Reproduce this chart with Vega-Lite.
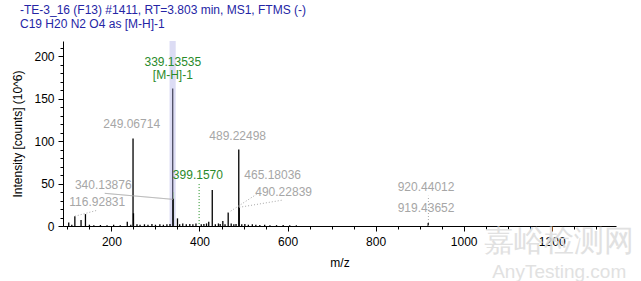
{
  "$schema": "https://vega.github.io/schema/vega-lite/v6.json",
  "width": 553,
  "height": 185,
  "autosize": {"type": "none"},
  "padding": {"left": 63, "top": 41, "right": 25, "bottom": 55},
  "background": "white",
  "config": {
    "font": "Liberation Sans",
    "view": {"stroke": null},
    "axis": {"labelFont": "Liberation Sans", "titleFont": "Liberation Sans", "grid": false}
  },
  "title": {
    "text": ["-TE-3_16 (F13) #1411, RT=3.803 min, MS1, FTMS (-)", "C19 H20 N2 O4 as [M-H]-1"],
    "anchor": "start",
    "frame": "group",
    "dx": -43,
    "offset": 10,
    "color": "#2525a5",
    "font": "Liberation Sans",
    "fontSize": 12,
    "fontWeight": "normal",
    "lineHeight": 14.5
  },
  "datasets": {
    "peaks": [
      {"mz": 103, "intensity": 4, "kind": "ion"},
      {"mz": 110, "intensity": 1.5, "kind": "ion"},
      {"mz": 116.93, "intensity": 11.5, "kind": "ion"},
      {"mz": 131, "intensity": 7, "kind": "ion"},
      {"mz": 141, "intensity": 14, "kind": "ion"},
      {"mz": 150, "intensity": 1.5, "kind": "ion"},
      {"mz": 160, "intensity": 1, "kind": "ion"},
      {"mz": 175, "intensity": 1.2, "kind": "ion"},
      {"mz": 190, "intensity": 1, "kind": "ion"},
      {"mz": 205, "intensity": 1.5, "kind": "ion"},
      {"mz": 220, "intensity": 1, "kind": "ion"},
      {"mz": 236, "intensity": 5, "kind": "ion"},
      {"mz": 244, "intensity": 1.5, "kind": "ion"},
      {"mz": 249.07, "intensity": 103, "kind": "ion"},
      {"mz": 250.07, "intensity": 15, "kind": "ion"},
      {"mz": 258, "intensity": 2, "kind": "ion"},
      {"mz": 265, "intensity": 1.5, "kind": "ion"},
      {"mz": 275, "intensity": 2, "kind": "ion"},
      {"mz": 283, "intensity": 1.5, "kind": "ion"},
      {"mz": 292, "intensity": 2.5, "kind": "ion"},
      {"mz": 300, "intensity": 1.5, "kind": "ion"},
      {"mz": 310, "intensity": 2, "kind": "ion"},
      {"mz": 318, "intensity": 1.5, "kind": "ion"},
      {"mz": 326, "intensity": 2, "kind": "ion"},
      {"mz": 333, "intensity": 2.5, "kind": "ion"},
      {"mz": 339.135, "intensity": 162, "kind": "base"},
      {"mz": 340.139, "intensity": 32, "kind": "ion"},
      {"mz": 350, "intensity": 9, "kind": "ion"},
      {"mz": 355, "intensity": 2, "kind": "ion"},
      {"mz": 362, "intensity": 3, "kind": "ion"},
      {"mz": 370, "intensity": 2, "kind": "ion"},
      {"mz": 378, "intensity": 2.5, "kind": "ion"},
      {"mz": 385, "intensity": 2, "kind": "ion"},
      {"mz": 392, "intensity": 3, "kind": "ion"},
      {"mz": 404, "intensity": 2, "kind": "ion"},
      {"mz": 410, "intensity": 2.5, "kind": "ion"},
      {"mz": 416, "intensity": 3, "kind": "ion"},
      {"mz": 421, "intensity": 5, "kind": "ion"},
      {"mz": 429, "intensity": 42.4, "kind": "ion"},
      {"mz": 436, "intensity": 2, "kind": "ion"},
      {"mz": 443, "intensity": 3, "kind": "ion"},
      {"mz": 447, "intensity": 2.5, "kind": "ion"},
      {"mz": 453, "intensity": 6, "kind": "ion"},
      {"mz": 458, "intensity": 2, "kind": "ion"},
      {"mz": 465.18, "intensity": 16, "kind": "ion"},
      {"mz": 472, "intensity": 3, "kind": "ion"},
      {"mz": 478, "intensity": 2, "kind": "ion"},
      {"mz": 483, "intensity": 2.5, "kind": "ion"},
      {"mz": 489.225, "intensity": 90, "kind": "ion"},
      {"mz": 490.228, "intensity": 22, "kind": "ion"},
      {"mz": 496, "intensity": 2, "kind": "ion"},
      {"mz": 503, "intensity": 2.5, "kind": "ion"},
      {"mz": 511, "intensity": 1.5, "kind": "ion"},
      {"mz": 520, "intensity": 2, "kind": "ion"},
      {"mz": 528, "intensity": 1.5, "kind": "ion"},
      {"mz": 537, "intensity": 1.2, "kind": "ion"},
      {"mz": 548, "intensity": 1.5, "kind": "ion"},
      {"mz": 560, "intensity": 1, "kind": "ion"},
      {"mz": 575, "intensity": 1, "kind": "ion"},
      {"mz": 590, "intensity": 1.2, "kind": "ion"},
      {"mz": 605, "intensity": 1, "kind": "ion"},
      {"mz": 620, "intensity": 0.8, "kind": "ion"},
      {"mz": 919.44, "intensity": 3.5, "kind": "ion"}
    ],
    "connectors": [
      {"mz1": 116.93, "i1": 11.5, "mz2": 169.6, "i2": 18.8, "style": "dotted"},
      {"mz1": 184.8, "i1": 38.5, "mz2": 339.8, "i2": 31.4, "style": "solid"},
      {"mz1": 465.18, "i1": 15.6, "mz2": 532.8, "i2": 38.5, "style": "dotted"},
      {"mz1": 490.23, "i1": 22, "mz2": 589.6, "i2": 30.6, "style": "dotted"},
      {"mz1": 919.9, "i1": 0, "mz2": 919.9, "i2": 35.6, "style": "dotted"}
    ],
    "labels": [
      {"text": "339.13535", "mz": 339.5, "intensity": 193.3, "kind": "assigned"},
      {"text": "[M-H]-1", "mz": 339.5, "intensity": 178.5, "kind": "assigned"},
      {"text": "249.06714", "mz": 246, "intensity": 120, "kind": "peak"},
      {"text": "489.22498", "mz": 486.7, "intensity": 106, "kind": "peak"},
      {"text": "399.1570", "mz": 396.4, "intensity": 60, "kind": "assigned"},
      {"text": "340.13876", "mz": 181.4, "intensity": 48.2, "kind": "peak"},
      {"text": "116.92831", "mz": 167.8, "intensity": 28.6, "kind": "peak"},
      {"text": "465.18036", "mz": 566.2, "intensity": 60, "kind": "peak"},
      {"text": "490.22839", "mz": 591.1, "intensity": 40.4, "kind": "peak"},
      {"text": "920.44012", "mz": 914.6, "intensity": 46.2, "kind": "peak"},
      {"text": "919.43652", "mz": 914.6, "intensity": 20.8, "kind": "peak"}
    ]
  },
  "layer": [
    {
      "data": {"values": [{"lo": 332, "hi": 346}]},
      "mark": {"type": "rect", "color": "#dcdcf4"},
      "encoding": {
        "x": {"field": "lo", "type": "quantitative", "scale": {"domain": [90, 1346], "nice": false, "zero": false}, "axis": null},
        "x2": {"field": "hi"}
      }
    },
    {
      "data": {"values": [{"mz": 341.1, "top": 40}]},
      "mark": {"type": "rule", "color": "#bfe6bf", "strokeWidth": 1},
      "encoding": {
        "x": {"field": "mz", "type": "quantitative", "axis": {"orient": "bottom", "values": [100, 150, 200, 250, 300, 350, 400, 450, 500, 550, 600, 650, 700, 750, 800, 850, 900, 950, 1000, 1050, 1100, 1150, 1200, 1250, 1300], "labels": false, "domain": false, "tickSize": 3, "tickColor": "#000000", "title": null}},
        "y": {"field": "top", "type": "quantitative", "scale": {"domain": [0, 218], "nice": false}, "axis": {"orient": "left", "values": [0, 10, 20, 30, 40, 50, 60, 70, 80, 90, 100, 110, 120, 130, 140, 150, 160, 170, 180, 190, 200, 210], "labels": false, "domain": false, "tickSize": 3, "tickColor": "#000000", "title": null}},
        "y2": {"datum": 0}
      }
    },
    {
      "data": {"name": "peaks"},
      "mark": {"type": "rule", "strokeWidth": 1.3},
      "encoding": {
        "x": {"field": "mz", "type": "quantitative", "axis": {"orient": "bottom", "values": [200, 400, 600, 800, 1000, 1200], "format": "d", "tickSize": 5, "tickColor": "#000000", "domainColor": "#000000", "labelColor": "#000000", "labelFontSize": 12, "labelPadding": 5, "title": "m/z", "titleFontSize": 12, "titleFontWeight": "normal", "titleColor": "#000000", "titlePadding": 10}},
        "y": {"field": "intensity", "type": "quantitative", "axis": {"orient": "left", "values": [0, 50, 100, 150, 200], "tickSize": 5, "tickColor": "#000000", "domainColor": "#000000", "labelColor": "#000000", "labelFontSize": 12, "labelPadding": 4, "title": "Intensity [counts] (10^6)", "titleFontSize": 12, "titleFontWeight": "normal", "titleColor": "#000000", "titlePadding": 9}},
        "y2": {"datum": 0},
        "color": {"field": "kind", "type": "nominal", "scale": {"domain": ["ion", "base"], "range": ["#000000", "#4d4d63"]}, "legend": null}
      }
    },
    {
      "data": {"name": "connectors"},
      "mark": {"type": "rule", "color": "#a8a8a8", "strokeWidth": 1},
      "encoding": {
        "x": {"field": "mz1", "type": "quantitative", "axis": null},
        "y": {"field": "i1", "type": "quantitative", "axis": null},
        "x2": {"field": "mz2"},
        "y2": {"field": "i2"},
        "strokeDash": {"field": "style", "type": "nominal", "scale": {"domain": ["dotted", "solid"], "range": [[1, 2], [1, 0]]}, "legend": null}
      }
    },
    {
      "data": {"values": [{"mz": 399.157, "top": 49.4}]},
      "mark": {"type": "rule", "color": "#1f8f1f", "strokeWidth": 1, "strokeDash": [1, 2]},
      "encoding": {
        "x": {"field": "mz", "type": "quantitative", "axis": null},
        "y": {"field": "top", "type": "quantitative", "axis": null},
        "y2": {"datum": 0}
      }
    },
    {
      "data": {"name": "labels"},
      "mark": {"type": "text", "align": "center", "baseline": "middle", "fontSize": 12, "font": "Liberation Sans"},
      "encoding": {
        "x": {"field": "mz", "type": "quantitative", "axis": null},
        "y": {"field": "intensity", "type": "quantitative", "axis": null},
        "text": {"field": "text"},
        "color": {"field": "kind", "type": "nominal", "scale": {"domain": ["peak", "assigned"], "range": ["#a6a6a6", "#2a8a2a"]}, "legend": null}
      }
    },
    {
      "data": {"values": [{"text": "嘉峪检测网", "mz": 1217, "intensity": -19, "kind": "cn"}, {"text": "AnyTesting.com", "mz": 1217, "intensity": -54, "kind": "en"}]},
      "mark": {"type": "text", "align": "center", "baseline": "middle", "color": "#dcdcdc", "opacity": 0.85},
      "encoding": {
        "x": {"field": "mz", "type": "quantitative", "axis": null},
        "y": {"field": "intensity", "type": "quantitative", "axis": null},
        "text": {"field": "text"},
        "size": {"field": "kind", "type": "nominal", "scale": {"domain": ["cn", "en"], "range": [30, 19]}, "legend": null},
        "font": {"value": "Noto Sans CJK SC"},
        "fontStyle": {"field": "kind", "type": "nominal", "scale": {"domain": ["cn", "en"], "range": ["normal", "italic"]}, "legend": null},
        "fontWeight": {"value": "bold"}
      }
    }
  ],
  "resolve": {"axis": {"x": "independent", "y": "independent"}, "scale": {"color": "independent"}}
}
